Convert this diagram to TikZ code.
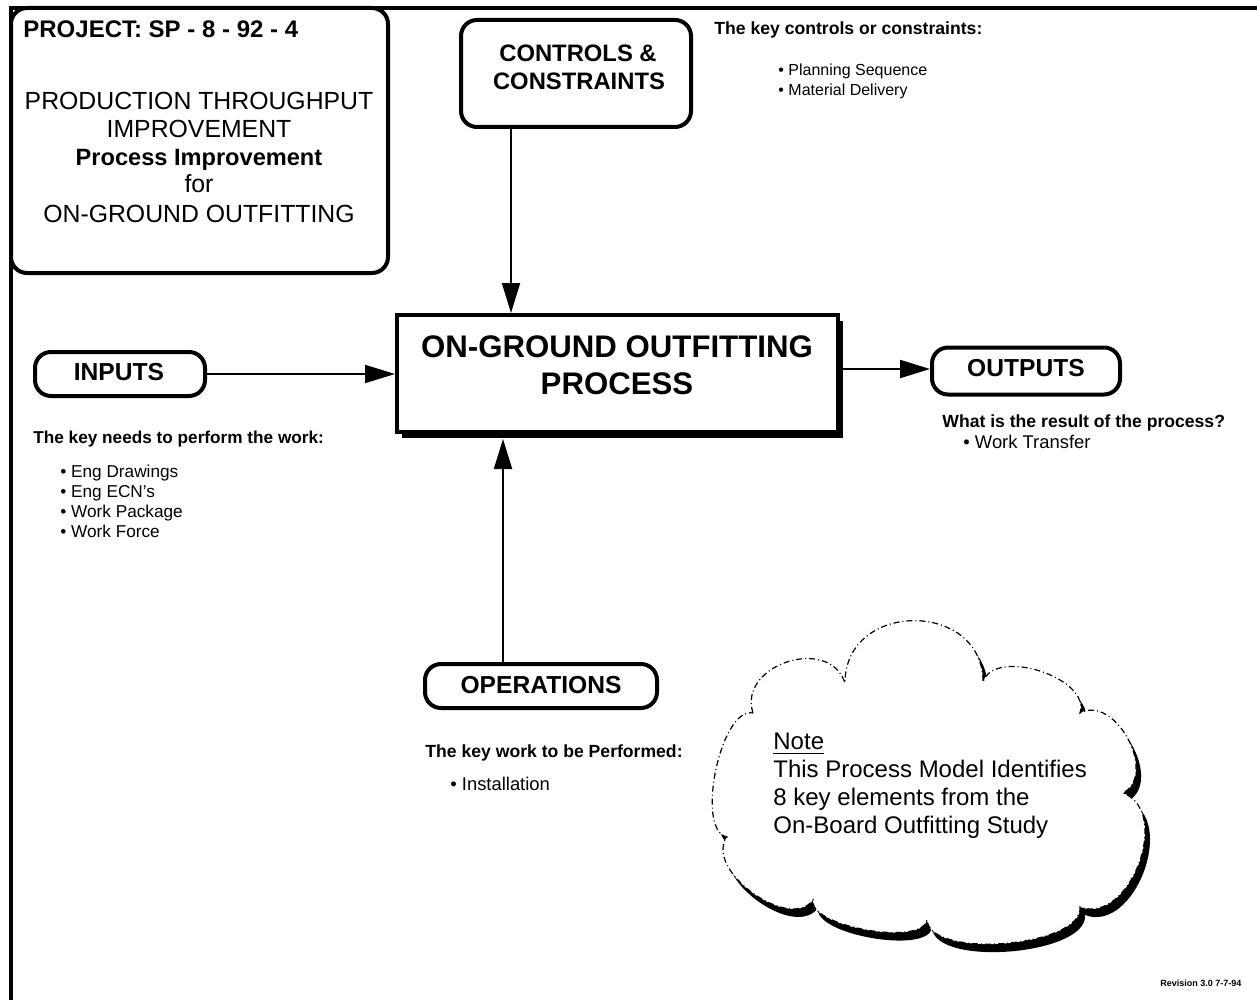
\documentclass[tikz,border=0pt]{standalone}
\usepackage{fontspec}
\setmainfont{Liberation Sans}
\usetikzlibrary{arrows.meta,shadows}
\begin{document}
\begin{tikzpicture}[x=0.5pt,y=-0.5pt,
  frame/.style={line width=2.2pt},
  rbox/.style={draw,line width=2pt,rounded corners=8pt,fill=white,inner sep=0pt},
  lbl/.style={font=\fontsize{12.3}{14}\selectfont\bfseries,inner sep=0pt,anchor=base},
  big/.style={font=\fontsize{12.4}{14}\selectfont,inner sep=0pt,anchor=base},
  head/.style={font=\fontsize{8.8}{10}\selectfont\bfseries,inner sep=0pt,anchor=base west},
  item/.style={font=\fontsize{8.8}{10}\selectfont,inner sep=0pt,anchor=base west},
  arr/.style={line width=1pt,-{Triangle[length=15pt,width=9pt]}},
  cloudline/.style={line width=0.6pt,dash pattern=on 3pt off 1.5pt on 0.5pt off 1.5pt}]
\useasboundingbox (0,0) rectangle (1257,1000);
% page frame
\draw[frame] (1257,8) -- (11,8) -- (11,1000);
% project box
\node[rbox,minimum width=188.5pt,minimum height=132.5pt] (proj) at (199.5,140.5) {};
\node[font=\fontsize{12}{14}\selectfont\bfseries,inner sep=0pt,anchor=base west] (projt) at (23,38) {PROJECT: SP - 8 - 92 - 4};
\node[big] (p1) at (199,110) {PRODUCTION THROUGHPUT};
\node[big] (p2) at (199,138) {IMPROVEMENT};
\node[big,font=\fontsize{11.8}{14}\selectfont\bfseries] (p3) at (199,166) {Process Improvement};
\node[big] (p4) at (199,193) {for};
\node[big] (p5) at (199,222) {ON-GROUND OUTFITTING};
% controls
\node[rbox,minimum width=115pt,minimum height=53.5pt] (ctrl) at (576,73.5) {};
\node[lbl,font=\fontsize{11.9}{14}\selectfont\bfseries] (ctrl1) at (578,62) {CONTROLS \&};
\node[lbl,font=\fontsize{11.9}{14}\selectfont\bfseries] (ctrl2) at (579,90) {CONSTRAINTS};
\node[head] (ctrlh) at (714,35) {The key controls or constraints:};
\node[item,font=\fontsize{8}{10}\selectfont] (ctrla) at (778,76) {• Planning Sequence};
\node[item,font=\fontsize{8}{10}\selectfont] (ctrlb) at (778,96) {• Material Delivery};
% process
\node[draw,line width=2pt,fill=white,minimum width=220.5pt,minimum height=58.5pt,
  drop shadow={shadow xshift=2.5pt,shadow yshift=-3pt,opacity=1,fill=black}] (proc) at (617.5,373.5) {};
\node[lbl,font=\fontsize{15.6}{18}\selectfont\bfseries] (proc1) at (617,357) {ON-GROUND OUTFITTING};
\node[lbl,font=\fontsize{15.6}{18}\selectfont\bfseries] (proc2) at (617,394) {PROCESS};
% inputs
\node[rbox,minimum width=85pt,minimum height=22pt] (inp) at (120,374) {};
\node[lbl] (inpt) at (119,380) {INPUTS};
\node[head,font=\fontsize{8.6}{10}\selectfont\bfseries] (inph) at (33,443) {The key needs to perform the work:};
\node[item,font=\fontsize{8.6}{10}\selectfont] (inpa) at (60,477) {• Eng Drawings};
\node[item,font=\fontsize{8.6}{10}\selectfont] (inpb) at (60,497) {• Eng ECN's};
\node[item,font=\fontsize{8.6}{10}\selectfont] (inpc) at (60,517) {• Work Package};
\node[item,font=\fontsize{8.6}{10}\selectfont] (inpd) at (60,537) {• Work Force};
% outputs
\node[rbox,minimum width=94pt,minimum height=23.5pt] (outp) at (1026,371) {};
\node[lbl] (outpt) at (1026,376) {OUTPUTS};
\node[head] (outh) at (942,427) {What is the result of the process?};
\node[item,font=\fontsize{9.2}{10}\selectfont] (outa) at (963,448) {• Work Transfer};
% operations
\node[rbox,minimum width=116pt,minimum height=22pt] (ops) at (541,686) {};
\node[lbl] (opst) at (541,693) {OPERATIONS};
\node[head] (opsh) at (425,757) {The key work to be Performed:};
\node[item,font=\fontsize{9.2}{10}\selectfont] (opsa) at (450,790) {• Installation};
% connectors
\draw[arr] ([xshift=-32.5pt]ctrl.south) -- ([xshift=-32.5pt]ctrl.south |- proc.north);
\draw[arr] (inp.east) -- (inp.east -| proc.west);
\draw[arr] ([yshift=1pt]outp.west -| proc.east) -- ([yshift=1pt]outp.west);
\draw[arr] ([xshift=-19pt]ops.north) -- ([xshift=-19pt,yshift=-2.5pt]ops.north |- proc.south);
% cloud
\fill[black,shift={(5,8)}] (753,713) .. controls (737.3,664.8) and (829.3,634.8) .. (845,683)
  .. controls (845,600) and (983,600) .. (983,682)
  .. controls (994.3,646.7) and (1091.3,677.7) .. (1080,713)
  .. controls (1115.2,694) and (1158.2,774) .. (1123,793)
  .. controls (1172.6,811.7) and (1129.6,925.7) .. (1080,907)
  .. controls (1083.4,946.8) and (930.4,959.8) .. (927,920)
  .. controls (922.3,946.6) and (808.3,926.6) .. (813,900)
  .. controls (789.4,932.3) and (703.4,869.3) .. (727,837)
  .. controls (694.7,830.2) and (720.7,706.2) .. (753,713) -- cycle;
\filldraw[fill=white,cloudline] (753,713) .. controls (737.3,664.8) and (829.3,634.8) .. (845,683)
  .. controls (845,600) and (983,600) .. (983,682)
  .. controls (994.3,646.7) and (1091.3,677.7) .. (1080,713)
  .. controls (1115.2,694) and (1158.2,774) .. (1123,793)
  .. controls (1172.6,811.7) and (1129.6,925.7) .. (1080,907)
  .. controls (1083.4,946.8) and (930.4,959.8) .. (927,920)
  .. controls (922.3,946.6) and (808.3,926.6) .. (813,900)
  .. controls (789.4,932.3) and (703.4,869.3) .. (727,837)
  .. controls (694.7,830.2) and (720.7,706.2) .. (753,713) -- cycle;
\node[font=\fontsize{12}{14}\selectfont,inner sep=0pt,anchor=north west,align=left] (note) at (773,733)
  {\underline{Note}\\This Process Model Identifies\\8 key elements from the\\On-Board Outfitting Study};
% revision
\node[font=\fontsize{4.5}{5}\selectfont\bfseries,inner sep=0pt,anchor=base west] (rev) at (1160,986) {Revision 3.0 7-7-94};
\end{tikzpicture}
\end{document}
